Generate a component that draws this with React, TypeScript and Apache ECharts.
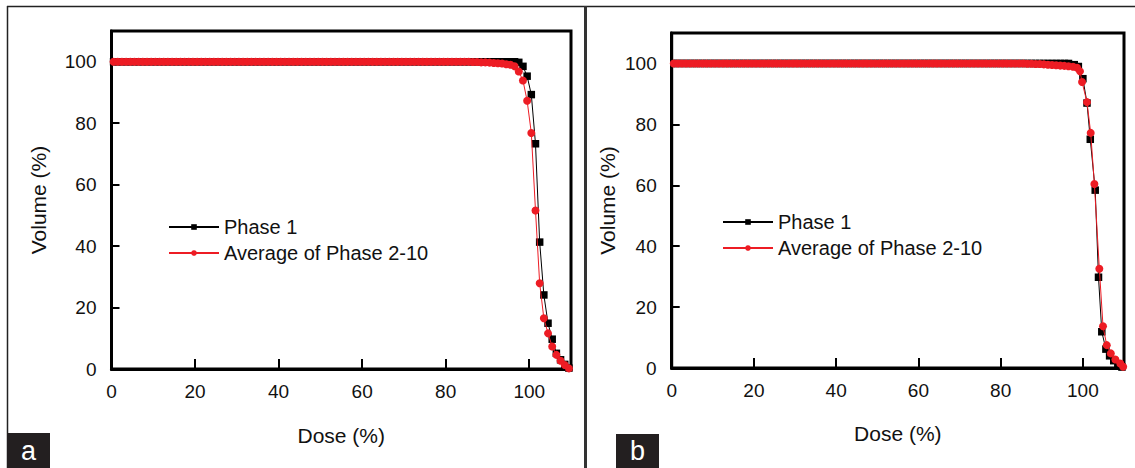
import React, { useEffect, useRef } from "react";
import * as echarts from "echarts";

// Flat plateau (dose %, volume %) shared by all four curves
const flatDose = [
  0.5, 1.5, 2.5, 3.5, 4.5, 5.5, 6.5, 7.5, 8.5, 9.5,
  10.5, 11.5, 12.5, 13.5, 14.5, 15.5, 16.5, 17.5, 18.5, 19.5,
  20.5, 21.5, 22.5, 23.5, 24.5, 25.5, 26.5, 27.5, 28.5, 29.5,
  30.5, 31.5, 32.5, 33.5, 34.5, 35.5, 36.5, 37.5, 38.5, 39.5,
  40.5, 41.5, 42.5, 43.5, 44.5, 45.5, 46.5, 47.5, 48.5, 49.5,
  50.5, 51.5, 52.5, 53.5, 54.5, 55.5, 56.5, 57.5, 58.5, 59.5,
  60.5, 61.5, 62.5, 63.5, 64.5, 65.5, 66.5, 67.5, 68.5, 69.5,
  70.5, 71.5, 72.5, 73.5, 74.5, 75.5, 76.5, 77.5, 78.5, 79.5,
  80.5, 81.5, 82.5, 83.5, 84.5, 85.5,
];
const flatVolume = [
  100, 100, 100, 100, 100, 100, 100, 100, 100, 100,
  100, 100, 100, 100, 100, 100, 100, 100, 100, 100,
  100, 100, 100, 100, 100, 100, 100, 100, 100, 100,
  100, 100, 100, 100, 100, 100, 100, 100, 100, 100,
  100, 100, 100, 100, 100, 100, 100, 100, 100, 100,
  100, 100, 100, 100, 100, 100, 100, 100, 100, 100,
  100, 100, 100, 100, 100, 100, 100, 100, 100, 100,
  100, 100, 100, 100, 100, 100, 100, 100, 100, 100,
  100, 100, 100, 100, 100, 100,
];

// Panel a tails
const tailDoseA = [86.5, 87.5, 88.5, 89.5, 90.5, 91.5, 92.5, 93.5, 94.5, 95.5, 96.5, 97.5, 98.5, 99.5, 100.5, 101.5, 102.5, 103.5, 104.5, 105.5, 106.5, 107.5, 108.5, 109.5];
const phase1TailA = [100, 100, 100, 100, 100, 100, 100, 100, 100, 100, 100, 99.8, 98.5, 95.3, 89.3, 73.3, 41.3, 24.1, 14.9, 9.7, 5.1, 3.0, 1.5, 0.3];
const avgTailA = [99.9, 99.9, 99.8, 99.8, 99.7, 99.6, 99.5, 99.4, 99.2, 99.0, 98.5, 96.8, 93.9, 87.3, 76.8, 51.6, 27.9, 16.5, 11.6, 7.3, 4.6, 2.7, 1.3, 0.2];

// Panel b tails
const phase1TailDoseB = [86.5, 87.5, 88.5, 89.5, 90.5, 91.5, 92.5, 93.5, 94.5, 95.5, 96.5, 97.9, 98.9, 100, 101, 101.8, 103, 103.8, 104.6, 105.6, 106.5, 107.5, 108.5, 109.5];
const phase1TailB = [100, 100, 100, 100, 100, 100, 100, 100, 100, 100, 100, 99.6, 99.0, 95, 87, 75.1, 58.4, 29.8, 11.9, 6.2, 4.0, 2.4, 1.2, 0.3];
const avgTailDoseB = [86.5, 87.5, 88.5, 89.5, 90.5, 91.5, 92.5, 93.5, 94.5, 95.5, 96.5, 97.6, 98.6, 99.3, 99.8, 101, 101.9, 102.8, 104, 104.9, 105.8, 106.8, 107.9, 109.1, 109.8];
const avgTailB = [99.9, 99.9, 99.8, 99.8, 99.7, 99.6, 99.5, 99.4, 99.3, 99.2, 99.1, 98.9, 98.6, 97.4, 93.9, 87.3, 77.2, 60.4, 32.6, 13.7, 7.5, 4.8, 2.8, 1.5, 0.4];

const seriesNames = ["Phase 1", "Average of Phase 2-10"];
const xTitle = "Dose (%)";
const yTitle = "Volume (%)";
const panelLabels = ["a", "b"];

const FONT = "'Liberation Sans', Arial, sans-serif";
const RED = "#ed1c24";

const toPairs = (d: number[], v: number[]) => d.map((x, i) => [x, v[i]]);

export default function App() {
  const ref = useRef<HTMLDivElement>(null);
  useEffect(() => {
    if (!ref.current) return;
    const chart = echarts.init(ref.current, null, { renderer: "svg" });

    const grids = [
      { left: 111.5, top: 31, width: 459.5, height: 338 },
      { left: 671.7, top: 33, width: 452.3, height: 335 },
    ];
    const yNameGap = [63, 54];
    const xNameGap = [56, 55];

    const mkX = (i: number) => ({
      type: "value",
      gridIndex: i,
      min: 0,
      max: 110,
      interval: 20,
      name: xTitle,
      nameLocation: "middle",
      nameGap: xNameGap[i],
      nameTextStyle: { fontSize: 21, fontFamily: FONT, color: "#111" },
      axisLine: { show: true, lineStyle: { color: "#000", width: 3 } },
      axisTick: { show: true, inside: true, length: 10, lineStyle: { color: "#000", width: 2 } },
      axisLabel: { fontSize: 19, fontFamily: FONT, color: "#111", margin: 13, showMaxLabel: false },
      splitLine: { show: false },
    });
    const mkY = (i: number) => ({
      type: "value",
      gridIndex: i,
      min: 0,
      max: 110,
      interval: 20,
      name: yTitle,
      nameLocation: "middle",
      nameGap: yNameGap[i],
      nameTextStyle: { fontSize: 21, fontFamily: FONT, color: "#111" },
      axisLine: { show: true, lineStyle: { color: "#000", width: 3 } },
      axisTick: { show: true, inside: true, length: 8, lineStyle: { color: "#000", width: 2 } },
      axisLabel: { fontSize: 19, fontFamily: FONT, color: "#111", margin: 15, showMaxLabel: false },
      splitLine: { show: false },
    });

    const blackSeries = (i: number, d: number[], v: number[]) => ({
      type: "line",
      name: seriesNames[0],
      xAxisIndex: i,
      yAxisIndex: i,
      data: toPairs(d, v),
      symbol: "rect",
      symbolSize: 7.5,
      itemStyle: { color: "#000" },
      lineStyle: { color: "#000", width: 1 },
      z: 2,
    });
    const redSeries = (i: number, d: number[], v: number[]) => ({
      type: "line",
      name: seriesNames[1],
      xAxisIndex: i,
      yAxisIndex: i,
      data: toPairs(d, v),
      symbol: "circle",
      symbolSize: 8,
      itemStyle: { color: RED },
      lineStyle: { color: RED, width: 1 },
      z: 3,
    });

    const legendCommon = {
      orient: "vertical",
      itemWidth: 50,
      itemHeight: 7,
      itemGap: 6,
      padding: 0,
      selectedMode: false,
      data: seriesNames,
      textStyle: { fontSize: 20, fontFamily: FONT, color: "#111" },
    };

    const labelBox = (x: number, y: number, w: number, h: number, t: string) => ({
      type: "group",
      children: [
        { type: "rect", shape: { x, y, width: w, height: h }, style: { fill: "#231f20" } },
        {
          type: "text",
          x: x + w / 2,
          y: y + h / 2,
          style: {
            text: t,
            fill: "#fff",
            fontSize: 27,
            fontFamily: FONT,
            align: "center",
            verticalAlign: "middle",
          },
        },
      ],
    });

    chart.setOption({
      animation: false,
      backgroundColor: "#fff",
      grid: grids.map((g) => ({ ...g, show: true, borderColor: "#000", borderWidth: 3, backgroundColor: "transparent" })),
      xAxis: [mkX(0), mkX(1)],
      yAxis: [mkY(0), mkY(1)],
      legend: [
        { ...legendCommon, left: 168, top: 217 },
        { ...legendCommon, left: 722, top: 212 },
      ],
      series: [
        blackSeries(0, flatDose.concat(tailDoseA), flatVolume.concat(phase1TailA)),
        redSeries(0, flatDose.concat(tailDoseA), flatVolume.concat(avgTailA)),
        blackSeries(1, flatDose.concat(phase1TailDoseB), flatVolume.concat(phase1TailB)),
        redSeries(1, flatDose.concat(avgTailDoseB), flatVolume.concat(avgTailB)),
      ],
      graphic: [
        { type: "line", shape: { x1: 7, y1: 6.5, x2: 1135, y2: 6.5 }, style: { stroke: "#222", lineWidth: 1.5 } },
        { type: "line", shape: { x1: 7.5, y1: 6, x2: 7.5, y2: 468 }, style: { stroke: "#222", lineWidth: 1.5 } },
        { type: "line", shape: { x1: 585.5, y1: 6, x2: 585.5, y2: 468 }, style: { stroke: "#333", lineWidth: 3 } },
        labelBox(7, 433, 43, 35, panelLabels[0]),
        labelBox(616, 434, 43, 34, panelLabels[1]),
      ],
    });
    return () => chart.dispose();
  }, []);
  return (
    <div
      ref={ref}
      style={{ position: "absolute", left: 0, top: 0, width: 1135, height: 468 }}
    />
  );
}
